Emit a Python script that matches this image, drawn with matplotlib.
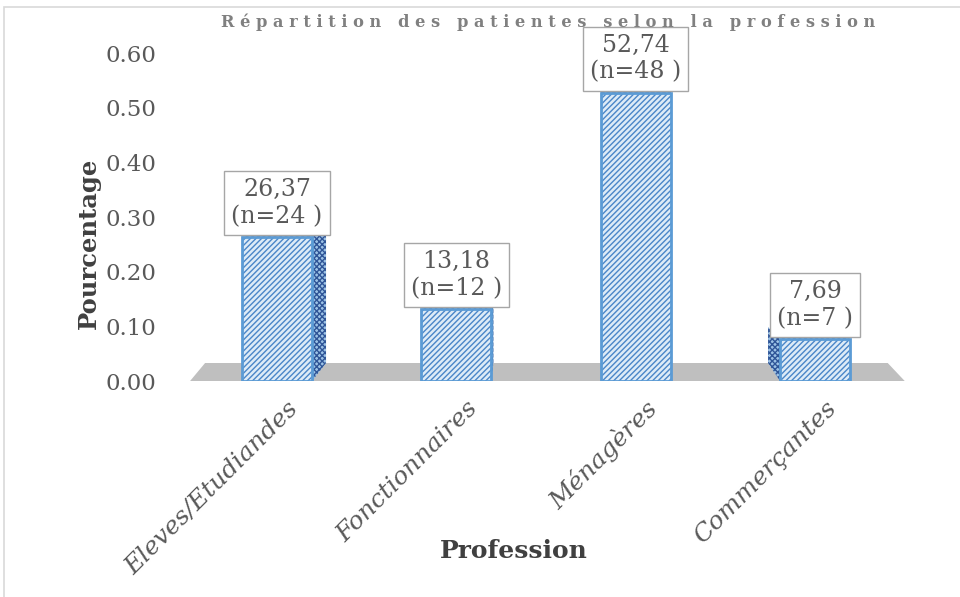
import numpy as np
import matplotlib
matplotlib.use("Agg")
from matplotlib import pyplot as plt
from matplotlib.patches import Polygon, Rectangle

professions = ["Eleves/Etudiandes", "Fonctionnaires", "Ménagères", "Commerçantes"]
pourcent = [26.37, 13.18, 52.74, 7.69]
effectif = [24, 12, 48, 7]
yticks = [0.0, 0.1, 0.2, 0.3, 0.4, 0.5, 0.6]

titre = "Répartition des patientes selon la profession"

serif = "DejaVu Serif"
gris_txt = "#595959"
face = "#DDEBF7"
hachure = "#4A86C8"
bord = "#5B9BD5"
sombre = "#2F5597"

fig = plt.figure(figsize=(9.6, 5.97), dpi=100)
W, H = 960, 597

# cadre gris clair autour du graphique
fig.patches.append(Rectangle((4 / W, -0.05), 1.2, 1 - 7 / H + 0.05, transform=fig.transFigure,
                             fill=False, edgecolor="#D9D9D9", lw=1.2))

ax = fig.add_axes([170 / W, 216 / H, 760 / W, 328 / H])
ax.set_xlim(-0.597, 3.641)
ax.set_ylim(0, 0.6)
for s in ax.spines.values():
    s.set_visible(False)

x = np.arange(len(professions))
h = np.array(pourcent) / 100.0
largeur = 0.39

# conversion pixels -> donnees
px_x = (ax.get_xlim()[1] - ax.get_xlim()[0]) / 760.0
px_y = 0.6 / 328.0

# sol gris
prof = 18 * px_y
sol = Polygon([(-0.485, 0), (3.5, 0), (3.5 - 17 * px_x, prof), (-0.485 + 15 * px_x, prof)],
              closed=True, facecolor="#BFBFBF", edgecolor="none", zorder=1)
ax.add_patch(sol)

# faces laterales (perspective)
decal = [14, 2, 0, -12]
for xi, hi, d in zip(x, h, decal):
    x0, x1 = xi - largeur / 2, xi + largeur / 2
    dx = d * px_x
    haut = 4 * px_y
    if d > 0:
        pts = [(x1, 0), (x1, hi), (x1 + dx, hi + haut), (x1 + dx, prof)]
    elif d < 0:
        pts = [(x0, 0), (x0, hi), (x0 + dx, hi + 3 * haut), (x0 + dx, prof)]
    else:
        pts = None
    if pts:
        ax.add_patch(Polygon(pts, closed=True, facecolor="#9DC3E6", edgecolor=sombre,
                             hatch="xxxxxx", lw=0, zorder=2))
    top = [(x0, hi), (x1, hi), (x1 + dx * 0.6, hi + haut), (x0 + dx * 0.6, hi + haut)]
    ax.add_patch(Polygon(top, closed=True, facecolor="#9DC3E6", edgecolor=sombre,
                         hatch="xxxxxx", lw=0, zorder=2))

plt.rcParams["hatch.linewidth"] = 1.0
ax.bar(x, h, width=largeur, color=face, edgecolor=hachure, hatch="//////", lw=0, zorder=3)
ax.bar(x, h, width=largeur, color="none", edgecolor=bord, lw=2, zorder=4)

# etiquettes
for xi, hi, p, n in zip(x, h, pourcent, effectif):
    txt = f"{p:.2f}".replace(".", ",") + f"\n(n={n} )"
    ax.annotate(txt, (xi, hi), xytext=(0, 9), textcoords="offset pixels",
                ha="center", va="bottom", fontsize=17, family=serif, color=gris_txt,
                linespacing=1.2, zorder=6,
                bbox=dict(boxstyle="square,pad=0.3", facecolor="white", edgecolor="#A6A6A6", lw=1))

ax.set_yticks(yticks)
ax.set_yticklabels([f"{v:.2f}" for v in yticks], family=serif, fontsize=16.5, color=gris_txt)
ax.tick_params(axis="y", length=0, pad=10)
ax.set_xticks(x)
ax.set_xticklabels([])
ax.tick_params(axis="x", length=0)

for xi, lab in zip(x, professions):
    ax.annotate(lab, (xi, 0), xytext=(18, -24), textcoords="offset pixels",
                rotation=45, rotation_mode="anchor", ha="right", va="center",
                fontsize=18, family=serif, style="italic", color=gris_txt)

fig.text(89 / W, 1 - 243 / H, "Pourcentage", rotation=90, ha="center", va="center",
         fontsize=17.5, family=serif, weight="bold", color="#404040")
fig.text(514 / W, 1 - 551 / H, "Profession", ha="center", va="center",
         fontsize=18, family=serif, weight="bold", color="#404040")

espace = "   ".join(" ".join(m) for m in titre.split(" "))
fig.text(548 / W, 1 - 22 / H, espace, ha="center", va="center", fontsize=11.7,
         family=serif, weight="bold", color="#808080", zorder=10)

fig.savefig("out.png", dpi=100)
